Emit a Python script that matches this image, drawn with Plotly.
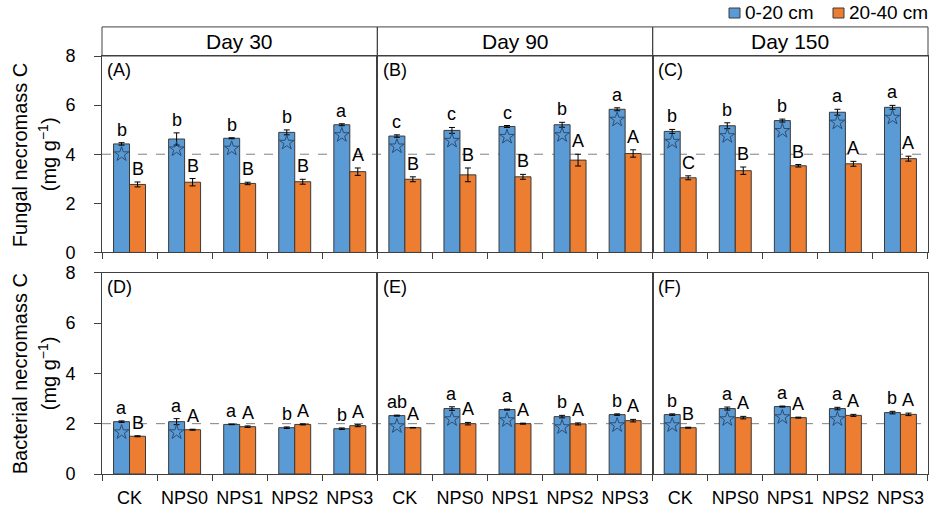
import plotly.graph_objects as go
from plotly.subplots import make_subplots

categories = ["CK", "NPS0", "NPS1", "NPS2", "NPS3"]
days = ["Day 30", "Day 90", "Day 150"]
depths = ["0-20 cm", "20-40 cm"]

# fungal necromass C, mg g-1 (one list per day)
fungal_top = [[4.42, 4.62, 4.65, 4.89, 5.20],
              [4.74, 4.97, 5.13, 5.20, 5.83],
              [4.93, 5.16, 5.37, 5.71, 5.91]]
fungal_top_err = [[0.05, 0.25, 0.02, 0.10, 0.04],
                  [0.05, 0.12, 0.04, 0.10, 0.06],
                  [0.08, 0.12, 0.06, 0.12, 0.08]]
fungal_sub = [[2.77, 2.86, 2.81, 2.88, 3.29],
              [2.98, 3.16, 3.08, 3.76, 4.03],
              [3.04, 3.33, 3.53, 3.61, 3.82]]
fungal_sub_err = [[0.10, 0.15, 0.05, 0.10, 0.15],
                  [0.10, 0.28, 0.10, 0.24, 0.15],
                  [0.08, 0.15, 0.05, 0.10, 0.10]]
fungal_top_letters = [["b", "b", "b", "b", "a"],
                      ["c", "c", "c", "b", "a"],
                      ["b", "b", "b", "a", "a"]]
fungal_sub_letters = [["B", "B", "B", "B", "A"],
                      ["B", "B", "B", "A", "A"],
                      ["C", "B", "B", "A", "A"]]
fungal_stars = [[True] * 5, [True] * 5, [True] * 5]

# bacterial necromass C, mg g-1
bact_top = [[2.08, 2.08, 1.97, 1.84, 1.80],
            [2.32, 2.60, 2.56, 2.28, 2.36],
            [2.36, 2.60, 2.68, 2.60, 2.44]]
bact_top_err = [[0.03, 0.12, 0.01, 0.03, 0.03],
                [0.02, 0.07, 0.02, 0.05, 0.03],
                [0.03, 0.06, 0.02, 0.05, 0.05]]
bact_sub = [[1.50, 1.76, 1.88, 1.97, 1.92],
            [1.84, 2.00, 2.00, 1.99, 2.12],
            [1.84, 2.24, 2.24, 2.33, 2.37]]
bact_sub_err = [[0.02, 0.02, 0.03, 0.02, 0.04],
                [0.01, 0.05, 0.02, 0.04, 0.05],
                [0.02, 0.05, 0.02, 0.04, 0.05]]
bact_top_letters = [["a", "a", "a", "b", "b"],
                    ["ab", "a", "a", "b", "b"],
                    ["b", "a", "a", "a", "b"]]
bact_sub_letters = [["B", "A", "A", "A", "A"],
                    ["A", "A", "A", "A", "A"],
                    ["B", "A", "A", "A", "A"]]
bact_stars = [[True, True, False, False, False],
              [True] * 5,
              [True, True, True, True, False]]

panel_labels = [["(A)", "(B)", "(C)"], ["(D)", "(E)", "(F)"]]
row_titles = ["Fungal necromass C", "Bacterial necromass C"]
ref_lines = [4, 2]

BLUE = "#5B9BD5"
ORANGE = "#ED7D31"
EDGE = "#3A3A3A"
AXIS = "#404040"
STAR = "#2E4B6E"
FONT = "Arial, Liberation Sans, sans-serif"
BAR_W = 0.29

rows = [
    (fungal_top, fungal_top_err, fungal_sub, fungal_sub_err, fungal_top_letters, fungal_sub_letters, fungal_stars),
    (bact_top, bact_top_err, bact_sub, bact_sub_err, bact_top_letters, bact_sub_letters, bact_stars),
]

fig = make_subplots(rows=2, cols=3, horizontal_spacing=0, vertical_spacing=0.05)

idx = list(range(len(categories)))
x_blue = [i - BAR_W / 2 for i in idx]
x_orange = [i + BAR_W / 2 for i in idx]

for r, (top, top_err, sub, sub_err, top_let, sub_let, stars) in enumerate(rows, start=1):
    for c in range(1, 4):
        d = c - 1
        n = (r - 1) * 3 + c
        ax = "" if n == 1 else str(n)
        fig.add_trace(go.Bar(
            x=x_blue, y=top[d], width=BAR_W, name=depths[0], showlegend=False,
            marker=dict(color=BLUE, line=dict(color=EDGE, width=1)),
            error_y=dict(type="data", array=top_err[d], color="black", thickness=1, width=3),
        ), row=r, col=c)
        fig.add_trace(go.Bar(
            x=x_orange, y=sub[d], width=BAR_W, name=depths[1], showlegend=False,
            marker=dict(color=ORANGE, line=dict(color=EDGE, width=1)),
            error_y=dict(type="data", array=sub_err[d], color="black", thickness=1, width=3),
        ), row=r, col=c)
        sx = [x for x, s in zip(x_blue, stars[d]) if s]
        sy = [v - 0.42 for v, s in zip(top[d], stars[d]) if s]
        fig.add_trace(go.Scatter(
            x=sx, y=sy, mode="markers", showlegend=False, hoverinfo="skip",
            marker=dict(symbol="star-open", size=11, color=STAR, line=dict(width=1, color=STAR)),
        ), row=r, col=c)
        for xs, vals, errs, lets in ((x_blue, top[d], top_err[d], top_let[d]),
                                     (x_orange, sub[d], sub_err[d], sub_let[d])):
            for x, v, e, t in zip(xs, vals, errs, lets):
                fig.add_annotation(x=x, y=v + e, xref=f"x{ax}", yref=f"y{ax}", text=t, showarrow=False,
                                   yanchor="bottom", yshift=1, font=dict(size=18))
        fig.add_annotation(x=0.012, y=0.99, xref=f"x{ax} domain", yref=f"y{ax} domain", text=panel_labels[r - 1][d],
                           showarrow=False, xanchor="left", yanchor="top", font=dict(size=18))
        if r == 1:
            fig.add_shape(type="rect", xref=f"x{ax} domain", yref=f"y{ax} domain", x0=0, x1=1, y0=1, y1=1.148,
                          line=dict(color=AXIS, width=1))
            fig.add_annotation(x=0.5, y=1.074, xref=f"x{ax} domain", yref=f"y{ax} domain", text=days[d],
                               showarrow=False, yanchor="middle", font=dict(size=21))
    fig.add_shape(type="line", xref="paper", yref="y" if r == 1 else "y4", x0=0, x1=1,
                  y0=ref_lines[r - 1], y1=ref_lines[r - 1], layer="below",
                  line=dict(color="#808080", width=1, dash="dash"))

# legend drawn by hand (square + label) in the top-right corner
for name, color, x_sq in zip(depths, [BLUE, ORANGE], [0.7591, 0.885]):
    fig.add_shape(type="rect", xref="paper", yref="paper", x0=x_sq, x1=x_sq + 0.0133, y0=1.0909, y1=1.1148,
                  fillcolor=color, line=dict(color=EDGE, width=1))
    fig.add_annotation(x=x_sq + 0.0165, y=1.1029, xref="paper", yref="paper", text=name, showarrow=False,
                       xanchor="left", yanchor="middle", font=dict(size=19))

fig.update_xaxes(range=[-0.5, 4.5], tickvals=idx, ticktext=categories, ticks="outside", ticklen=7,
                 tickcolor="rgba(0,0,0,0)", showgrid=False, zeroline=False, showline=True, mirror=True,
                 linecolor=AXIS, linewidth=1, tickfont=dict(size=18),
                 minor=dict(tickmode="array", tickvals=[i - 0.5 for i in range(len(categories) + 1)],
                            ticks="outside", ticklen=6, tickcolor=AXIS, showgrid=False))
fig.update_xaxes(showticklabels=False, row=1)
fig.update_yaxes(range=[0, 8], tickvals=[0, 2, 4, 6, 8], showgrid=False, zeroline=False, showline=True,
                 mirror=True, linecolor=AXIS, linewidth=1, tickfont=dict(size=18))
fig.update_yaxes(ticks="outside", ticklen=7, tickcolor=AXIS, ticklabelstandoff=15, col=1)
fig.update_yaxes(showticklabels=False, ticks="", col=2)
fig.update_yaxes(showticklabels=False, ticks="", col=3)
fig.update_yaxes(domain=[0.530, 1.0], row=1)
fig.update_yaxes(domain=[0.0, 0.4816], row=2)

for r, (title, yc) in enumerate(zip(row_titles, [0.765, 0.241])):
    fig.add_annotation(x=-0.0993, y=yc, xref="paper", yref="paper", text=title, textangle=-90,
                       showarrow=False, xanchor="center", yanchor="middle", font=dict(size=20))
    fig.add_annotation(x=-0.0666, y=yc, xref="paper", yref="paper", text="(mg g<sup>\u22121</sup>)",
                       textangle=-90, showarrow=False, xanchor="center", yanchor="middle", font=dict(size=20))

fig.update_layout(
    width=935, height=508,
    margin=dict(l=102, r=7, t=56, b=34, autoexpand=False),
    barmode="overlay",
    plot_bgcolor="white", paper_bgcolor="white",
    font=dict(family=FONT, size=17, color="black"),
    showlegend=False,
)

# drop the browser's default 8 px body margin so the figure fills the window exactly
fig.write_html("out.html", config={"displayModeBar": False},
               post_script="document.body.style.margin = '0';")
